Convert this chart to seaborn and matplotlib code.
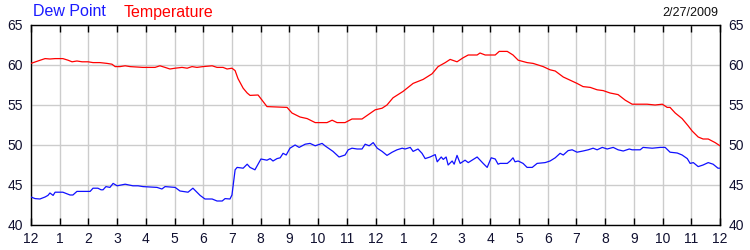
import matplotlib
matplotlib.use("Agg")
import matplotlib.pyplot as plt
import seaborn as sns
import pandas as pd

# ---- data (hours since midnight, degrees F) ----
temp_hours = [0.00, 0.24, 0.49, 0.66, 0.84, 1.11, 1.29, 1.43, 1.60, 1.78,
              1.99, 2.16, 2.40, 2.65, 2.82, 2.93, 3.10, 3.28, 3.45, 3.90,
              4.32, 4.49, 4.67, 4.84, 5.02, 5.26, 5.44, 5.61, 5.78, 5.99,
              6.31, 6.48, 6.69, 6.83, 7.00, 7.11, 7.21, 7.39, 7.53, 7.63,
              7.91, 8.22, 8.92, 9.09, 9.37, 9.62, 9.90, 10.31, 10.49, 10.66,
              10.94, 11.18, 11.53, 11.71, 11.99, 12.23, 12.40, 12.61, 12.96, 13.31,
              13.66, 13.97, 14.18, 14.43, 14.60, 14.84, 15.05, 15.23, 15.54, 15.64,
              15.82, 16.17, 16.31, 16.59, 16.79, 16.97, 17.28, 17.49, 17.84, 18.08,
              18.26, 18.54, 18.78, 19.02, 19.23, 19.48, 19.72, 19.93, 20.17, 20.45,
              20.70, 20.94, 21.46, 21.74, 21.99, 22.16, 22.26, 22.44, 22.68, 22.89,
              23.03, 23.24, 23.41, 23.59, 23.83, 24.00]
temp_values = [60.2, 60.5, 60.8, 60.75, 60.8, 60.8, 60.6, 60.4, 60.5, 60.4,
               60.4, 60.3, 60.3, 60.2, 60.1, 59.8, 59.8, 59.9, 59.8, 59.7,
               59.7, 59.9, 59.7, 59.5, 59.6, 59.7, 59.6, 59.8, 59.7, 59.8,
               59.9, 59.7, 59.7, 59.5, 59.6, 59.3, 58.3, 57.1, 56.5, 56.2,
               56.25, 54.8, 54.7, 54.0, 53.5, 53.3, 52.8, 52.8, 53.1, 52.8,
               52.8, 53.25, 53.25, 53.7, 54.4, 54.6, 55.0, 55.9, 56.7, 57.7,
               58.2, 58.9, 59.8, 60.3, 60.7, 60.4, 60.9, 61.25, 61.25, 61.5,
               61.25, 61.25, 61.7, 61.7, 61.25, 60.6, 60.3, 60.2, 59.8, 59.4,
               59.25, 58.5, 58.1, 57.7, 57.3, 57.2, 56.9, 56.8, 56.5, 56.3,
               55.6, 55.1, 55.1, 55.0, 55.1, 54.7, 54.7, 54.0, 53.3, 52.4,
               51.75, 51.0, 50.75, 50.75, 50.3, 49.9]

dew_hours = [0.00, 0.14, 0.31, 0.49, 0.59, 0.66, 0.77, 0.84, 1.11, 1.25,
             1.36, 1.46, 1.60, 2.06, 2.16, 2.33, 2.44, 2.51, 2.61, 2.75,
             2.86, 3.00, 3.28, 3.55, 3.73, 3.90, 4.39, 4.56, 4.67, 5.02,
             5.19, 5.47, 5.64, 5.78, 5.89, 6.06, 6.31, 6.48, 6.66, 6.76,
             6.93, 7.00, 7.11, 7.18, 7.39, 7.53, 7.63, 7.80, 8.01, 8.22,
             8.33, 8.43, 8.57, 8.68, 8.78, 8.89, 9.02, 9.20, 9.34, 9.55,
             9.72, 9.90, 10.14, 10.24, 10.52, 10.73, 10.94, 11.05, 11.18, 11.36,
             11.53, 11.64, 11.78, 11.92, 12.06, 12.23, 12.40, 12.58, 12.75, 12.93,
             13.03, 13.21, 13.31, 13.48, 13.62, 13.73, 13.90, 14.08, 14.15, 14.29,
             14.36, 14.46, 14.53, 14.67, 14.74, 14.84, 14.95, 15.12, 15.23, 15.54,
             15.75, 15.89, 16.03, 16.17, 16.27, 16.34, 16.59, 16.69, 16.79, 16.86,
             16.97, 17.14, 17.28, 17.46, 17.63, 17.91, 18.08, 18.26, 18.43, 18.54,
             18.71, 18.85, 19.02, 19.23, 19.41, 19.58, 19.72, 19.90, 20.07, 20.28,
             20.45, 20.63, 20.84, 20.94, 21.22, 21.32, 21.64, 21.92, 22.09, 22.26,
             22.51, 22.68, 22.86, 22.96, 23.07, 23.24, 23.41, 23.59, 23.76, 23.93,
             24.00]
dew_values = [43.5, 43.3, 43.25, 43.5, 43.7, 44.0, 43.7, 44.1, 44.1, 43.9,
              43.75, 43.75, 44.2, 44.2, 44.6, 44.6, 44.4, 44.4, 44.8, 44.7,
              45.2, 44.9, 45.1, 44.9, 44.9, 44.8, 44.7, 44.5, 44.8, 44.7,
              44.25, 44.1, 44.6, 44.1, 43.7, 43.25, 43.25, 43.0, 43.0, 43.3,
              43.25, 43.75, 46.9, 47.2, 47.1, 47.6, 47.2, 46.9, 48.25, 48.1,
              48.3, 48.0, 48.3, 48.4, 48.96, 48.75, 49.6, 50.0, 49.7, 50.1,
              50.2, 49.9, 50.2, 49.9, 49.2, 48.5, 48.75, 49.4, 49.6, 49.5,
              49.5, 50.1, 49.9, 50.3, 49.6, 49.2, 48.7, 49.1, 49.4, 49.6,
              49.5, 49.7, 49.2, 49.5, 48.96, 48.3, 48.5, 48.8, 47.9, 48.5,
              48.2, 48.5, 47.5, 48.0, 47.6, 48.7, 47.7, 48.1, 47.8, 48.5,
              47.7, 47.2, 48.4, 48.25, 47.6, 47.7, 47.7, 48.0, 48.4, 47.9,
              48.0, 47.7, 47.2, 47.2, 47.7, 47.8, 48.0, 48.4, 48.96, 48.75,
              49.3, 49.4, 49.1, 49.25, 49.4, 49.6, 49.4, 49.7, 49.5, 49.7,
              49.4, 49.25, 49.5, 49.4, 49.4, 49.7, 49.6, 49.7, 49.7, 49.1,
              49.0, 48.75, 48.3, 47.7, 47.8, 47.3, 47.5, 47.8, 47.6, 47.1,
              47.1]

hour_ticks = list(range(25))
hour_labels = ["12", "1", "2", "3", "4", "5", "6", "7", "8", "9", "10", "11",
               "12", "1", "2", "3", "4", "5", "6", "7", "8", "9", "10", "11", "12"]
y_ticks = [40, 45, 50, 55, 60, 65]
date_label = "2/27/2009"

# ---- plot ----
sns.set_style("white")
plt.rcParams["font.family"] = ["Liberation Sans", "DejaVu Sans"]

fig = plt.figure(figsize=(7.5, 2.5), dpi=100)
ax = fig.add_axes([31 / 750, 25 / 250, 689 / 750, 200 / 250])

temp_df = pd.DataFrame({"hour": temp_hours, "value": temp_values})
dew_df = pd.DataFrame({"hour": dew_hours, "value": dew_values})

sns.lineplot(data=temp_df, x="hour", y="value", ax=ax, color="#ff0000",
             linewidth=0.9, zorder=3)
sns.lineplot(data=dew_df, x="hour", y="value", ax=ax, color="#1010ff",
             linewidth=0.9, zorder=3)

ax.set_xlim(0, 24)
ax.set_ylim(40, 65)
ax.set_xticks(hour_ticks)
ax.set_xticklabels(hour_labels)
ax.set_yticks(y_ticks)
ax.set_xlabel("")
ax.set_ylabel("")

ax.grid(True, color="#cccccc", linewidth=1.0, zorder=0)
ax.set_axisbelow(True)
for sp in ax.spines.values():
    sp.set_visible(True)
    sp.set_color("black")
    sp.set_linewidth(1.0)

ax.tick_params(axis="x", which="both", top=True, bottom=True, direction="in",
               length=5, width=1, color="black", labelsize=10, pad=5,
               labelcolor="#101030")
ax.tick_params(axis="y", which="both", left=False, right=False, length=0,
               labelleft=True, labelright=True, labelsize=10, pad=6,
               labelcolor="#101030")

fig.text(33 / 750, 1 - 12 / 250, "Dew Point", color="#1a1aff", fontsize=11.5,
         ha="left", va="center")
fig.text(124 / 750, 1 - 12 / 250, "Temperature", color="#ff0000", fontsize=11.5,
         ha="left", va="center")
fig.text(718 / 750, 1 - 13 / 250, date_label, color="#101010", fontsize=9,
         ha="right", va="center")

fig.savefig("out.png", dpi=100)
